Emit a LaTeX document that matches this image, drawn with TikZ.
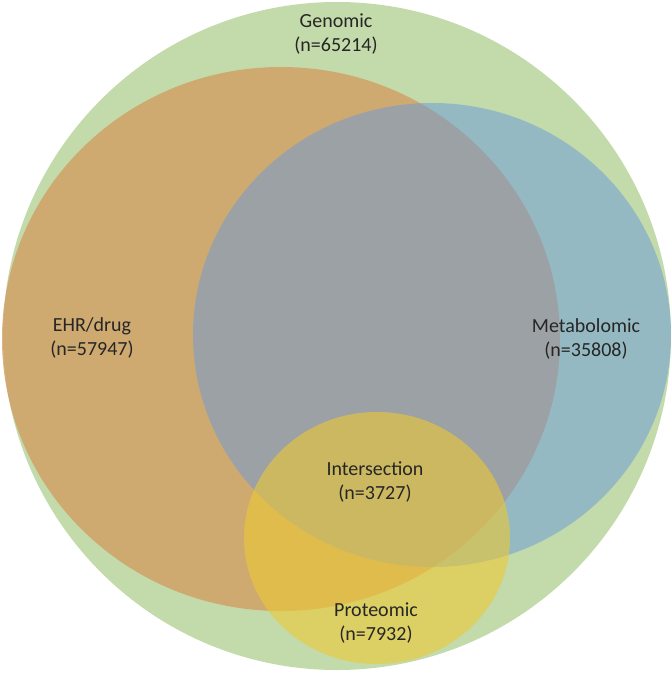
\documentclass[tikz,border=0pt]{standalone}
\usepackage{fontspec}
\setmainfont{Carlito}
\definecolor{genomic}{RGB}{195,218,170}
\definecolor{ehr}{RGB}{211,154,94}
\definecolor{metab}{RGB}{105,154,218}
\definecolor{prot}{RGB}{237,200,53}
\begin{document}
\begin{tikzpicture}[x=1pt,y=-1pt,gs/.style={fill=genomic},es/.style={fill=ehr,fill opacity=0.75},ms/.style={fill=metab,fill opacity=0.5},ps/.style={fill=prot,fill opacity=0.6},lbl/.style={align=center,text=black!85,font=\fontsize{20}{24}\selectfont}]
\useasboundingbox (0,0) rectangle (671,680);
% sets
\fill[gs] (337,336) circle [x radius=334,y radius=334];
\fill[es] (281,339) ellipse [x radius=279,y radius=272];
\fill[ms] (432,335) ellipse [x radius=239,y radius=232];
\fill[ps] (377,538) ellipse [x radius=133,y radius=126];
% labels
\node (g) [lbl] at (336,34) {Genomic\\(n=65214)};
\node (e) [lbl] at (92,338) {EHR/drug\\(n=57947)};
\node (m) [lbl] at (586,339) {Metabolomic\\(n=35808)};
\node (i) [lbl] at (375,482) {Intersection\\(n=3727)};
\node (p) [lbl] at (376,623) {Proteomic\\(n=7932)};
\end{tikzpicture}
\end{document}
